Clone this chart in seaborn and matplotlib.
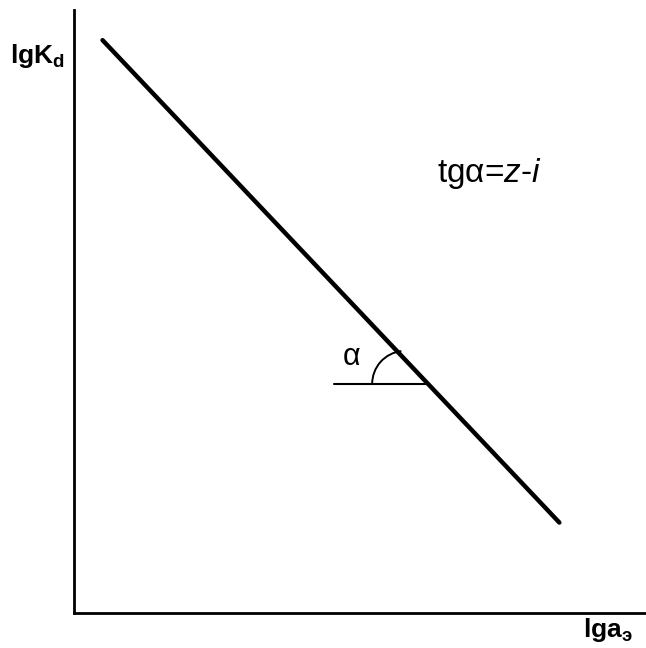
import numpy as np
import matplotlib
matplotlib.use("Agg")
import matplotlib.pyplot as plt
import seaborn as sns
from matplotlib.patches import Arc

sns.set_theme(style="white")
plt.rcParams["font.family"] = ["Liberation Sans", "DejaVu Sans"]
plt.rcParams["text.color"] = "black"
plt.rcParams["mathtext.fontset"] = "custom"
plt.rcParams["mathtext.rm"] = "Liberation Sans"
plt.rcParams["mathtext.it"] = "Liberation Sans:italic"
plt.rcParams["mathtext.bf"] = "Liberation Sans:bold"

# Straight line lgKd vs lg a (schematic units)
lg_a = [0.5, 8.5]
lg_kd = [9.5, 1.5]

# Reference horizontal for the slope angle
horiz_x = [4.55, 6.2]
horiz_y = [3.8, 3.8]
arc_center = (5.80, 3.80)

W, H = 646, 648
fig = plt.figure(figsize=(W / 100, H / 100), dpi=100)
ax = fig.add_axes([74 / W, 35 / H, 571 / W, 603 / H])
ax.set_xlim(0, 10)
ax.set_ylim(0, 10)

sns.lineplot(x=lg_a, y=lg_kd, ax=ax, color="black", linewidth=3.2,
             solid_capstyle="round")
ax.plot(horiz_x, horiz_y, color="black", linewidth=1.5)

# Angle mark
ax.add_patch(Arc(arc_center, width=1.156, height=1.094, theta1=97, theta2=180,
                 color="black", linewidth=1.4))

for side in ("top", "right"):
    ax.spines[side].set_visible(False)
for side in ("left", "bottom"):
    ax.spines[side].set_color("black")
    ax.spines[side].set_linewidth(2.0)
ax.set_xticks([])
ax.set_yticks([])

def px(x, y):
    return x / W, 1 - y / H

fig.text(*px(10, 63), r"$\mathbf{lgK_d}$", fontsize=19, ha="left", va="baseline")
fig.text(*px(583, 637), "$\\mathbf{lga_{э}}$", fontsize=19, ha="left", va="baseline")
fig.text(*px(437, 182), r"tgα=$z$-$i$", fontsize=24, ha="left", va="baseline")
fig.text(*px(343, 365), "α", fontsize=22, ha="left", va="baseline")

fig.savefig("out.png", dpi=100, facecolor="white")
